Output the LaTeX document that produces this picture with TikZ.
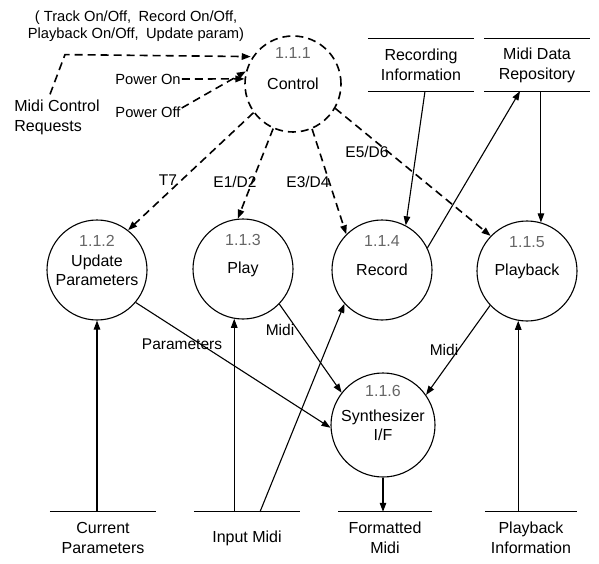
\documentclass[tikz,border=0pt]{standalone}
\usepackage{fontspec}
\setmainfont{Liberation Sans}
\usetikzlibrary{arrows.meta}

\begin{document}
\begin{tikzpicture}[x=1pt,y=-1pt]
  \tikzset{ proc/.style={circle,draw,line width=1.1pt,minimum size=100pt,inner sep=0pt,align=center,font=\fontsize{16}{19}\selectfont},
    num/.style={black!60,font=\fontsize{16}{19}\selectfont,label distance=-31pt},
    store/.style={minimum width=106pt,minimum height=52pt,inner sep=0pt,align=center,font=\fontsize{16}{20}\selectfont},
    sline/.style={line width=1.3pt},
    flow/.style={line width=1.1pt,-{Triangle[length=9pt,width=6.5pt]}},
    dsh/.style={line width=1.6pt,dash pattern=on 8pt off 5pt},
    ctrl/.style={flow,dsh},
    lbl/.style={font=\fontsize{15.5}{18}\selectfont,inner sep=1pt},
  }
  \useasboundingbox (0,0) rectangle (599,564);

  % processes
  \node[proc,dsh,minimum size=96pt,label={[num,label distance=-27pt]above:1.1.1}] (ctl) at (293,84) {Control};
  \node[proc,label={[num]above:1.1.2}] (upd) at (97,270) {Update\\Parameters};
  \node[proc,label={[num]above:1.1.3}] (play) at (243,269) {Play};
  \node[proc,label={[num]above:1.1.4}] (rec) at (382,270) {Record};
  \node[proc,label={[num]above:1.1.5}] (pb) at (527,271) {Playback};
  \node[proc,minimum size=104pt,label={[num,label distance=-28pt]above:1.1.6}] (syn) at (383,425) {Synthesizer\\I/F};

  % data stores
  \node[store] (recinfo) at (421,65) {Recording\\Information};
  \node[store,minimum width=105pt] (repo) at (537,65) {Midi Data\\Repository};
  \node[store] (curpar) at (103,538) {Current\\Parameters};
  \node[store] (inmidi) at (247,538) {Input Midi};
  \node[store,minimum width=93pt] (fmtmidi) at (385,538) {Formatted\\Midi};
  \node[store,minimum width=92pt] (pbinfo) at (531,538) {Playback\\Information};
  \foreach \s in {recinfo,repo,curpar,inmidi,fmtmidi,pbinfo}
    \draw[sline] (\s.north west) -- (\s.north east) (\s.south west) -- (\s.south east);

  % control inputs
  \node[lbl,align=center,font=\fontsize{14.7}{17}\selectfont] (cmds) at (136,26) {( Track On/Off,\enspace Record On/Off,\\Playback On/Off,\enspace Update param)};
  \node[lbl,align=left,font=\fontsize{16}{20}\selectfont,inner sep=0pt] (req) at (57,117) {Midi Control\\Requests};
  \node[lbl,font=\fontsize{14.7}{17}\selectfont] (pon) at (148,79) {Power On};
  \node[lbl,font=\fontsize{14.7}{17}\selectfont] (poff) at (148,112) {Power Off};
  \draw[ctrl] ([xshift=-7pt,yshift=5pt]req.north) -- ([xshift=8pt,yshift=5pt]req.north |- ctl.150) -- ([yshift=3pt]ctl.150);
  \draw[ctrl] (pon.east) -- (ctl.174);
  \draw[ctrl] ([yshift=4pt]poff.east) -- (ctl.165);

  % control flows
  \draw[ctrl] (ctl.216) -- (upd.52);
  \draw[ctrl] (ctl.246) -- (play.96);
  \draw[ctrl] (ctl.293) -- (rec.135);
  \draw[ctrl] (ctl.330) -- (pb.136);
  \node[lbl] (t7) at (168,180) {T7};
  \node[lbl] (e1) at (235,182) {E1/D2};
  \node[lbl] (e3) at (308,182) {E3/D4};
  \node[lbl] (e5) at (367,152) {E5/D6};

  % data flows
  \draw[flow] ([xshift=4pt]recinfo.south) -- (rec.62);
  \draw[flow] (rec.26) -- ([xshift=-17pt]repo.south);
  \draw[flow] (pb.74 |- repo.south) -- (pb.74);
  \draw[flow] (upd.south |- curpar.north) -- (upd.south);
  \draw[flow] (play.260 |- inmidi.north) -- (play.260);
  \draw[flow] ([xshift=13pt]inmidi.north) -- (rec.222);
  \draw[flow] (pb.260 |- pbinfo.north) -- (pb.260);
  \draw[flow] (syn.south) -- (syn.south |- fmtmidi.north);
  \draw[flow] (upd.320) -- (syn.183);
  \draw[flow] (play.316) -- (syn.142);
  \draw[flow] (pb.223) -- (syn.35);
  \node[lbl] (par) at (182,344) {Parameters};
  \node[lbl] (m1) at (280,330) {Midi};
  \node[lbl] (m2) at (444,350) {Midi};

\end{tikzpicture}
\end{document}
